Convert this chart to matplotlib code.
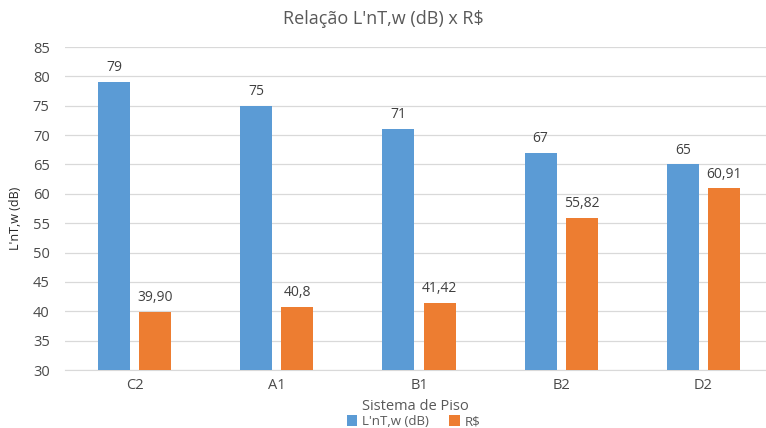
import numpy as np
from matplotlib import pyplot as plt

plt.rcParams['font.family'] = ['Open Sans', 'DejaVu Sans']

# Floor systems and the values shown on each bar
sistemas = ["C2", "A1", "B1", "B2", "D2"]
lnt_labels = ["79", "75", "71", "67", "65"]
custo_labels = ["39,90", "40,8", "41,42", "55,82", "60,91"]

lnt = [float(s.replace(',', '.')) for s in lnt_labels]
custo = [float(s.replace(',', '.')) for s in custo_labels]

BLUE = "#5B9BD5"
ORANGE = "#ED7D31"
TEXT = "#595959"


def main():
    fig = plt.figure(figsize=(7.66, 4.28), dpi=100)
    ax = fig.add_axes([65 / 766, 1 - 370 / 428, 1 - 65 / 766, (370 - 47) / 428])

    x = np.arange(len(sistemas))
    w = 0.225
    b1 = ax.bar(x - 0.145, lnt, w, color=BLUE, label="L'nT,w (dB)", zorder=3)
    b2 = ax.bar(x + 0.145, custo, w, color=ORANGE, label="R$", zorder=3)

    ax.bar_label(b1, labels=lnt_labels, padding=5, fontsize=10, color="#404040")
    ax.bar_label(b2, labels=custo_labels, padding=5, fontsize=10, color="#404040")

    ax.set_ylim(30, 85)
    ax.set_yticks(np.arange(30, 86, 5))
    ax.set_xlim(-0.49, 4.44)
    ax.set_xticks(x)
    ax.set_xticklabels(sistemas)

    ax.grid(True, axis='y', color="#D9D9D9", linewidth=0.9, zorder=0)
    for side in ["top", "right", "left"]:
        ax.spines[side].set_visible(False)
    ax.spines["bottom"].set_color("#D9D9D9")
    ax.tick_params(axis='both', length=0, labelsize=10.5, colors="#4a4a4a")
    ax.tick_params(axis='x', pad=6)
    ax.tick_params(axis='y', pad=11)

    ax.set_xlabel("Sistema de Piso", fontsize=10.5, color=TEXT, labelpad=4)
    fig.text(0.02, 0.49, "L'nT,w (dB)", rotation=90, fontsize=9,
             color="#262626", ha='center', va='center')

    fig.text(0.5, 0.955, "Relação L'nT,w (dB) x R$", fontsize=13,
             color=TEXT, ha='center', va='center')

    fig.legend(loc='center', bbox_to_anchor=(0.54, 0.015), ncol=2, frameon=False,
               fontsize=9.5, labelcolor=TEXT, handlelength=0.8, handleheight=0.8,
               handletextpad=0.4, columnspacing=1.5)

    fig.savefig("out.png", dpi=100)
    plt.close(fig)


if __name__ == "__main__":
    main()
